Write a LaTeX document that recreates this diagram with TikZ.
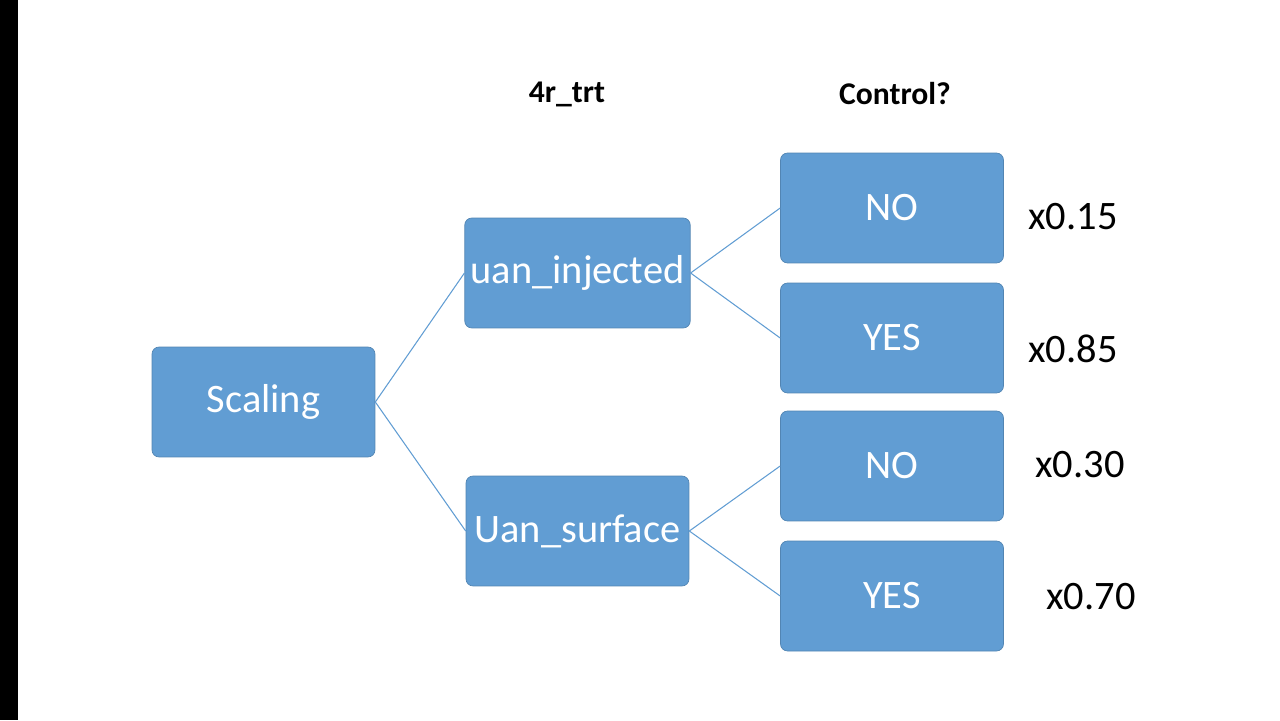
\documentclass[tikz,border=0pt]{standalone}
\usepackage{fontspec}
\setmainfont{Carlito}
\definecolor{boxBlue}{RGB}{97,157,211}
\usetikzlibrary{positioning}
\tikzset{
  box/.style={draw=boxBlue!85!black, line width=0.4pt, fill=boxBlue, rounded corners=4pt,
    minimum width=4.46cm, minimum height=2.2cm, text=white, font=\fontsize{23}{26}\selectfont},
  head/.style={font=\bfseries\fontsize{18}{20}\selectfont},
  factor/.style={font=\fontsize{23}{26}\selectfont},
  link/.style={draw=boxBlue, line width=0.6pt}
}
\begin{document}
\begin{tikzpicture}[x=0.02cm, y=-0.02cm]
	\useasboundingbox (0,0) rectangle (1280,720);
	\fill[black] (0,0) rectangle (18,720);

	\node[box] (scaling) at (263.5,402) {Scaling};
	\node[box] (inj) at (577.5,273) {uan\_injected};
	\node[box] (surf) at (577.5,531) {Uan\_surface};
	\node[box] (no1) at (892,208) {NO};
	\node[box] (yes1) at (892,338) {YES};
	\node[box] (no2) at (892,466) {NO};
	\node[box] (yes2) at (892,596) {YES};

	\node[head] (trt) at (567,94) {4r\_trt};
	\node[head] (ctrl) at (895,94) {Control?};

	\node[factor] (f1) at (1073,217) {x0.15};
	\node[factor] (f2) at (1073,349) {x0.85};
	\node[factor] (f3) at (1080,465) {x0.30};
	\node[factor] (f4) at (1091,597) {x0.70};

	\draw[link] (scaling.east) -- (inj.west);
	\draw[link] (scaling.east) -- (surf.west);
	\draw[link] (inj.east) -- (no1.west);
	\draw[link] (inj.east) -- (yes1.west);
	\draw[link] (surf.east) -- (no2.west);
	\draw[link] (surf.east) -- (yes2.west);
\end{tikzpicture}
\end{document}
